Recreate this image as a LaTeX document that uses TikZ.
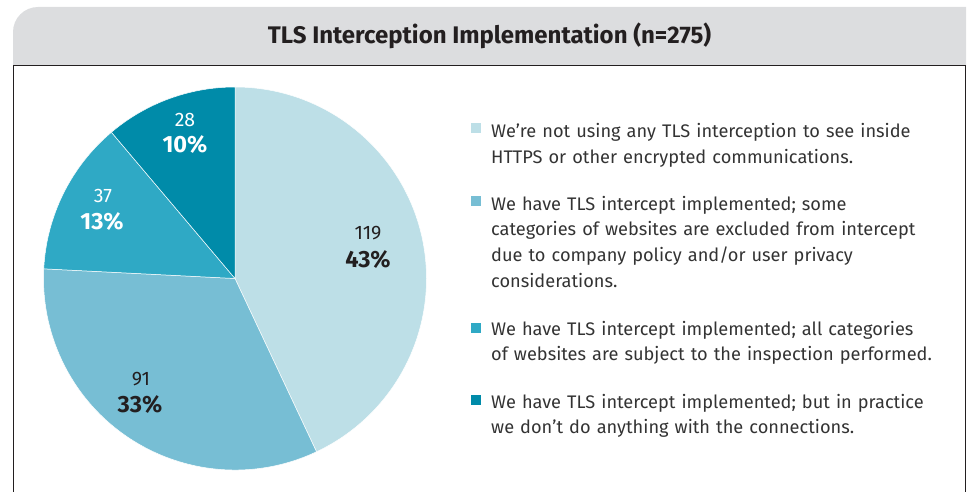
\documentclass[tikz,border=0pt]{standalone}
\usepackage{fontspec}
\setmainfont{Fira Sans}
\definecolor{titlegray}{HTML}{DCDDDF}
\definecolor{inkdark}{HTML}{231F20}
\definecolor{textgray}{HTML}{333333}
\definecolor{sliceA}{HTML}{BDDFE7}
\definecolor{sliceB}{HTML}{77BED4}
\definecolor{sliceC}{HTML}{2FA9C5}
\definecolor{sliceD}{HTML}{008BA9}

\begin{document}
\begin{tikzpicture}[
    x=1pt, y=1pt,
    slice/.style={draw=white,line width=0.5pt},
    cnt/.style={inner sep=0pt,font=\fontsize{19.5}{19.5}\selectfont},
    pct/.style={inner sep=0pt,font=\fontsize{23.5}{23.5}\selectfont\bfseries},
    key/.style={minimum size=10pt,inner sep=0pt},
    item/.style={anchor=base west,text width=480pt,align=left,inner sep=0pt,
      text=textgray,font=\fontsize{18.2}{25.7}\selectfont}]
  \useasboundingbox (0,0) rectangle (971,-492);
  % title bar and frame
  \fill[titlegray] (13,-66) -- (13,-32) arc[start angle=180,end angle=90,radius=25]
    -- (966,-7) -- (966,-66) -- cycle;
  \draw[inkdark,line width=1pt] (13.5,-492) -- (13.5,-66) -- (965.5,-66) -- (965.5,-492);
  \node[inkdark,font=\fontsize{24}{24}\selectfont\bfseries] (title) at (489.5,-36)
    {TLS Interception Implementation (n=275)};
  % pie
  \coordinate (c) at (235,-278.5);
  \draw[slice,fill=sliceA] (c) -- ++(90:191.5) arc[start angle=90,end angle=-64.8,radius=191.5] -- cycle;
  \draw[slice,fill=sliceB] (c) -- ++(-64.8:191.5) arc[start angle=-64.8,end angle=-182.9,radius=191.5] -- cycle;
  \draw[slice,fill=sliceC] (c) -- ++(-182.9:191.5) arc[start angle=-182.9,end angle=-229.8,radius=191.5] -- cycle;
  \draw[slice,fill=sliceD] (c) -- ++(-229.8:191.5) arc[start angle=-229.8,end angle=-270,radius=191.5] -- cycle;
  \node[cnt,text=inkdark] (cntA) at (368,-233) {119};
  \node[pct,text=inkdark] (pctA) at (368,-260) {43\%};
  \node[cnt,text=inkdark] (cntB) at (141,-379) {91};
  \node[pct,text=inkdark] (pctB) at (140,-405) {33\%};
  \node[cnt,text=white] (cntC) at (103,-196) {37};
  \node[pct,text=white] (pctC) at (102,-222) {13\%};
  \node[cnt,text=white] (cntD) at (185,-120) {28};
  \node[pct,text=white] (pctD) at (185,-145) {10\%};
  % legend
  \node[key,fill=sliceA] (keyA) at (475.7,-128.3) {};
  \node[item] (itemA) at (491,-137.7) {We’re not using any TLS interception to see inside\\
    HTTPS or other encrypted communications.};
  \node[key,fill=sliceB] (keyB) at (475.7,-201) {};
  \node[item] (itemB) at (491,-210) {We have TLS intercept implemented; some\\
    categories of websites are excluded from intercept\\
    due to company policy and/or user privacy\\
    considerations.};
  \node[key,fill=sliceC] (keyC) at (475.7,-327.7) {};
  \node[item] (itemC) at (491,-335) {We have TLS intercept implemented; all categories\\
    of websites are subject to the inspection performed.};
  \node[key,fill=sliceD] (keyD) at (475.7,-400) {};
  \node[item] (itemD) at (491,-408) {We have TLS intercept implemented; but in practice\\
    we don’t do anything with the connections.};
\end{tikzpicture}
\end{document}
